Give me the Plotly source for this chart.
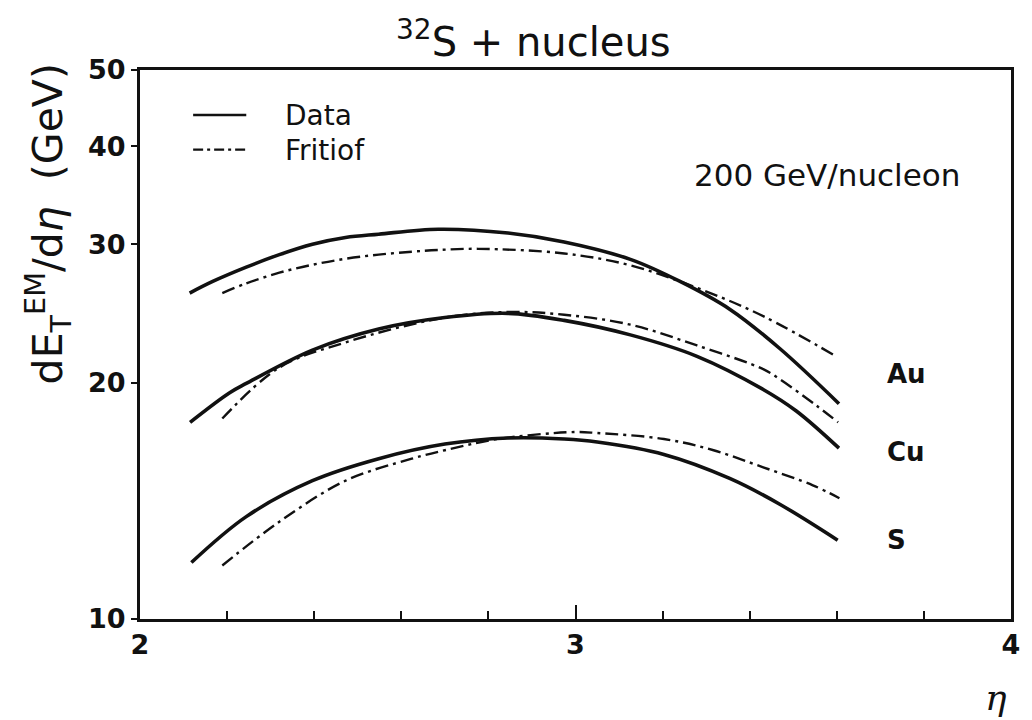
import math
import plotly.graph_objects as go

# Au target: measured data and Fritiof prediction
eta_au_data = [2.114, 2.167, 2.244, 2.320, 2.396, 2.472, 2.548, 2.685, 2.845, 2.974, 3.126, 3.240, 3.354, 3.469, 3.605]
au_data = [26.0, 26.9, 28.05, 29.1, 30.0, 30.6, 30.9, 31.35, 31.0, 30.2, 28.7, 26.9, 24.8, 22.1, 18.8]
eta_au_frit = [2.189, 2.244, 2.320, 2.396, 2.472, 2.548, 2.624, 2.685, 2.776, 2.974, 3.126, 3.279, 3.431, 3.598]
au_frit = [26.0, 26.75, 27.6, 28.25, 28.75, 29.1, 29.35, 29.5, 29.6, 29.2, 28.2, 26.4, 24.3, 21.6]

# Cu target
eta_cu_data = [2.115, 2.205, 2.244, 2.396, 2.548, 2.700, 2.845, 2.974, 3.126, 3.279, 3.431, 3.507, 3.605]
cu_data = [17.8, 19.4, 19.95, 22.0, 23.4, 24.2, 24.5, 24.0, 23.0, 21.6, 19.6, 18.4, 16.5]
eta_cu_frit = [2.189, 2.320, 2.472, 2.700, 2.845, 2.974, 3.126, 3.279, 3.431, 3.469, 3.553, 3.603]
cu_frit = [18.0, 20.9, 22.5, 24.2, 24.6, 24.4, 23.7, 22.3, 20.8, 20.2, 18.7, 17.8]

# S target
eta_s_data = [2.118, 2.244, 2.396, 2.548, 2.700, 2.845, 2.974, 3.050, 3.203, 3.354, 3.469, 3.602]
s_data = [11.8, 13.5, 15.0, 16.0, 16.7, 17.0, 16.95, 16.8, 16.2, 15.1, 14.0, 12.6]
eta_s_frit = [2.189, 2.320, 2.472, 2.624, 2.700, 2.822, 2.997, 3.050, 3.203, 3.317, 3.431, 3.545, 3.606]
s_frit = [11.7, 13.3, 15.0, 16.0, 16.4, 16.95, 17.3, 17.25, 16.95, 16.4, 15.6, 14.8, 14.25]

y_ticks = [10, 20, 30, 40, 50]
x_ticks = [2, 3, 4]
targets = ["Au", "Cu", "S"]
target_levels = [20.5, 16.3, 12.6]
label_eta = 3.71

INK = "#111111"
FONT = "DejaVu Sans, Verdana, sans-serif"
DASHDOT = "13px,5px,3px,5px"

fig = go.Figure()

curves = [
    (eta_au_data, au_data, "solid"), (eta_au_frit, au_frit, "dashdot"),
    (eta_cu_data, cu_data, "solid"), (eta_cu_frit, cu_frit, "dashdot"),
    (eta_s_data, s_data, "solid"), (eta_s_frit, s_frit, "dashdot"),
]
for xs, ys, style in curves:
    fig.add_trace(go.Scatter(
        x=xs, y=ys, mode="lines", showlegend=False,
        line=dict(color=INK, width=3.6 if style == "solid" else 2.4,
                  dash="solid" if style == "solid" else DASHDOT,
                  shape="spline", smoothing=1.0),
    ))

# Target nucleus labels (annotation y on a log axis is given in log10 units)
for name, lvl in zip(targets, target_levels):
    fig.add_annotation(x=label_eta, y=math.log10(lvl), text="<b>" + name + "</b>",
                       showarrow=False, xanchor="left", yanchor="middle",
                       font=dict(family=FONT, size=26, color=INK))

# Legend samples
fig.add_shape(type="line", xref="paper", yref="paper", x0=0.061, x1=0.122,
              y0=0.918, y1=0.918, line=dict(color=INK, width=2.6))
fig.add_shape(type="line", xref="paper", yref="paper", x0=0.061, x1=0.122,
              y0=0.855, y1=0.855, line=dict(color=INK, width=2.2, dash="10px,4px,3px,4px"))
fig.add_annotation(xref="paper", yref="paper", x=0.164, y=0.918, text="Data",
                   showarrow=False, xanchor="left", yanchor="middle",
                   font=dict(family=FONT, size=28, color=INK))
fig.add_annotation(xref="paper", yref="paper", x=0.164, y=0.853, text="Fritiof",
                   showarrow=False, xanchor="left", yanchor="middle",
                   font=dict(family=FONT, size=28, color=INK))

fig.add_annotation(xref="paper", yref="paper", x=0.944, y=0.809, text="200 GeV/nucleon",
                   showarrow=False, xanchor="right", yanchor="middle",
                   font=dict(family=FONT, size=31, color=INK))

# Title
fig.add_annotation(xref="paper", yref="paper", x=0.452, y=1.0, yshift=31,
                   text="<sup>32</sup>S + nucleus", showarrow=False,
                   xanchor="center", yanchor="middle",
                   font=dict(family=FONT, size=40, color=INK))

# Axis titles
fig.add_annotation(xref="paper", yref="paper", x=-0.106, y=0.72,
                   text="dE<sub>T</sub><sup>EM</sup>/d<i>η</i>  (GeV)", textangle=-90,
                   showarrow=False, xanchor="center", yanchor="middle",
                   font=dict(family=FONT, size=41, color=INK))
fig.add_annotation(xref="paper", yref="paper", x=0.998, y=0, yshift=-78,
                   text="<i>η</i>", showarrow=False,
                   xanchor="right", yanchor="middle",
                   font=dict(family="DejaVu Serif, serif", size=36, color=INK))

fig.update_layout(
    width=1032, height=720,
    margin=dict(l=140, r=16, t=70, b=101),
    plot_bgcolor="white", paper_bgcolor="white",
    xaxis=dict(range=[2, 4], tickvals=x_ticks, ticktext=["<b>%d</b>" % v for v in x_ticks],
               ticks="inside", ticklen=14, tickwidth=2, tickcolor=INK,
               minor=dict(dtick=0.2, ticks="inside", ticklen=8, tickwidth=2, tickcolor=INK),
               showgrid=False, zeroline=False, showline=True, linecolor=INK, linewidth=3,
               mirror=True, tickfont=dict(family=FONT, size=27, color=INK)),
    yaxis=dict(type="log", range=[1, math.log10(50)], tickvals=y_ticks,
               ticktext=["<b>%d</b>" % v for v in y_ticks],
               ticks="outside", ticklen=6, tickwidth=2, tickcolor=INK,
               showgrid=False, zeroline=False, showline=True, linecolor=INK, linewidth=3,
               mirror=True, tickfont=dict(family=FONT, size=27, color=INK)),
)

fig.write_html("out.html")
